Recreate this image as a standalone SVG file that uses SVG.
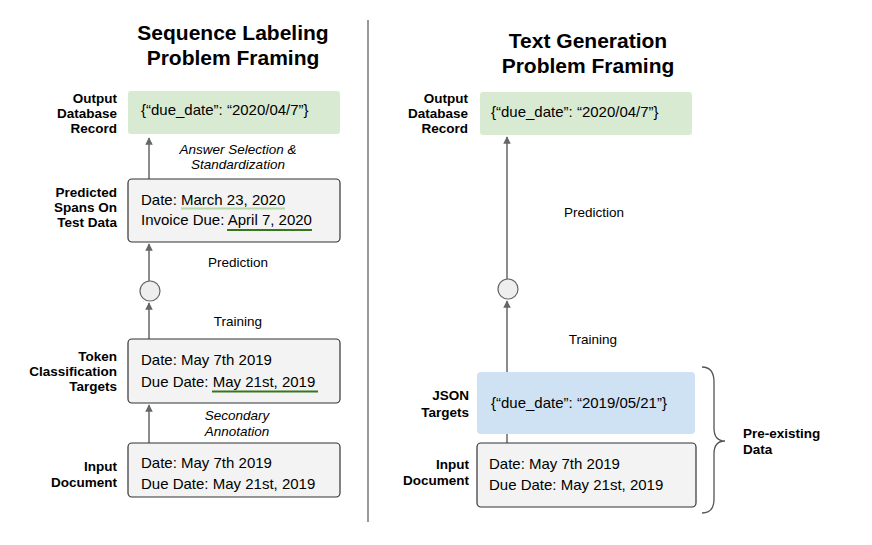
<svg xmlns="http://www.w3.org/2000/svg" width="872" height="545" viewBox="0 0 872 545">
<defs>
<style>
text{font-family:"Liberation Sans",Arial,Helvetica,sans-serif;fill:#000}
.title{font-size:21px;font-weight:bold;text-anchor:middle}
.lbl{font-size:13.5px;font-weight:bold;text-anchor:end}
.box{font-size:15px}
.edge{font-size:13.5px;text-anchor:middle}
.it{font-style:italic}
.gray{fill:#f3f3f3;stroke:#333;stroke-width:1.2}
.green{fill:#d9ead3}
.blue{fill:#cfe2f3}
.conn{stroke:#666;stroke-width:1.5;fill:none}
.circ{fill:#eeeeee;stroke:#666;stroke-width:1.2}
</style>
<marker id="ah" viewBox="0 0 10 10" refX="9" refY="5" markerWidth="5" markerHeight="5" orient="auto">
<path d="M0,0L10,5L0,10z" fill="#666"/>
</marker>
</defs>
<rect width="872" height="545" fill="#fff"/>
<line x1="368" y1="20" x2="368" y2="522" stroke="#777" stroke-width="1.5"/>
<g id="titles">
<text class="title" x="233" y="40">Sequence Labeling</text>
<text class="title" x="233" y="65">Problem Framing</text>
<text class="title" x="588" y="48">Text Generation</text>
<text class="title" x="588" y="73">Problem Framing</text>
</g>
<g id="connectors">
<line class="conn" x1="149" y1="179" x2="149" y2="138" marker-end="url(#ah)"/>
<line class="conn" x1="149" y1="281" x2="149" y2="244" marker-end="url(#ah)"/>
<line class="conn" x1="149" y1="339" x2="149" y2="303" marker-end="url(#ah)"/>
<line class="conn" x1="149" y1="443" x2="149" y2="405" marker-end="url(#ah)"/>
<line class="conn" x1="507" y1="279" x2="507" y2="137" marker-end="url(#ah)"/>
<line class="conn" x1="507" y1="372" x2="507" y2="301" marker-end="url(#ah)"/>
<line class="conn" x1="507" y1="434" x2="507" y2="443"/>
<text class="edge it" x="238" y="154">Answer Selection &amp;</text>
<text class="edge it" x="238" y="169">Standardization</text>
<text class="edge" x="238" y="267">Prediction</text>
<text class="edge" x="238" y="326">Training</text>
<text class="edge it" x="237" y="420">Secondary</text>
<text class="edge it" x="237" y="436">Annotation</text>
<text class="edge" x="594" y="217">Prediction</text>
<text class="edge" x="593" y="344">Training</text>
</g>
<g id="left-output">
<rect class="green" x="128" y="91" width="212" height="43" rx="3"/>
<text class="box" x="141" y="115">{“due_date”: “2020/04/7”}</text>
<text class="lbl" x="117" y="103">Output</text>
<text class="lbl" x="117" y="118">Database</text>
<text class="lbl" x="117" y="133">Record</text>
</g>
<g id="left-predicted">
<rect class="gray" x="128" y="179" width="212" height="63" rx="4"/>
<text class="box" x="141" y="205">Date: March 23, 2020</text>
<text class="box" x="141" y="225">Invoice Due: April 7, 2020</text>
<line x1="181" y1="208.5" x2="285" y2="208.5" stroke="#b6d7a8" stroke-width="2"/>
<line x1="227" y1="230" x2="312" y2="230" stroke="#38761d" stroke-width="2"/>
<text class="lbl" x="117" y="197">Predicted</text>
<text class="lbl" x="117" y="212">Spans On</text>
<text class="lbl" x="117" y="227">Test Data</text>
</g>
<g id="left-model">
<circle class="circ" cx="150" cy="291" r="10"/>
</g>
<g id="left-token">
<rect class="gray" x="128" y="339" width="212" height="64" rx="4"/>
<text class="box" x="141" y="365">Date: May 7th 2019</text>
<text class="box" x="141" y="387">Due Date: May 21st, 2019</text>
<line x1="212" y1="391.5" x2="318" y2="391.5" stroke="#38761d" stroke-width="2"/>
<text class="lbl" x="117" y="361">Token</text>
<text class="lbl" x="117" y="376">Classification</text>
<text class="lbl" x="117" y="391">Targets</text>
</g>
<g id="left-input">
<rect class="gray" x="128" y="443" width="212" height="54" rx="4"/>
<text class="box" x="141" y="468">Date: May 7th 2019</text>
<text class="box" x="141" y="489">Due Date: May 21st, 2019</text>
<text class="lbl" x="117" y="471">Input</text>
<text class="lbl" x="117" y="487">Document</text>
</g>
<g id="right-output">
<rect class="green" x="480" y="92" width="212" height="43" rx="3"/>
<text class="box" x="491" y="117">{“due_date”: “2020/04/7”}</text>
<text class="lbl" x="468" y="103">Output</text>
<text class="lbl" x="468" y="118">Database</text>
<text class="lbl" x="468" y="133">Record</text>
</g>
<g id="right-model">
<circle class="circ" cx="508" cy="289" r="10"/>
</g>
<g id="right-json">
<rect class="blue" x="477" y="372" width="218" height="62" rx="4"/>
<text class="box" x="491" y="408">{“due_date”: “2019/05/21”}</text>
<text class="lbl" x="469" y="400">JSON</text>
<text class="lbl" x="469" y="417">Targets</text>
</g>
<g id="right-input">
<rect class="gray" x="477" y="443" width="219" height="64" rx="4"/>
<text class="box" x="489" y="469">Date: May 7th 2019</text>
<text class="box" x="489" y="490">Due Date: May 21st, 2019</text>
<text class="lbl" x="469" y="469">Input</text>
<text class="lbl" x="469" y="485">Document</text>
</g>
<g id="pre-existing">
<path d="M702,367 Q714,367 714,382 L714,428 Q714,441 725,441 Q714,441 714,454 L714,499 Q714,513 702,513" fill="none" stroke="#555" stroke-width="1.3"/>
<text style="font-size:13.5px;font-weight:bold" x="743" y="438">Pre-existing</text>
<text style="font-size:13.5px;font-weight:bold" x="743" y="454">Data</text>
</g>
</svg>
